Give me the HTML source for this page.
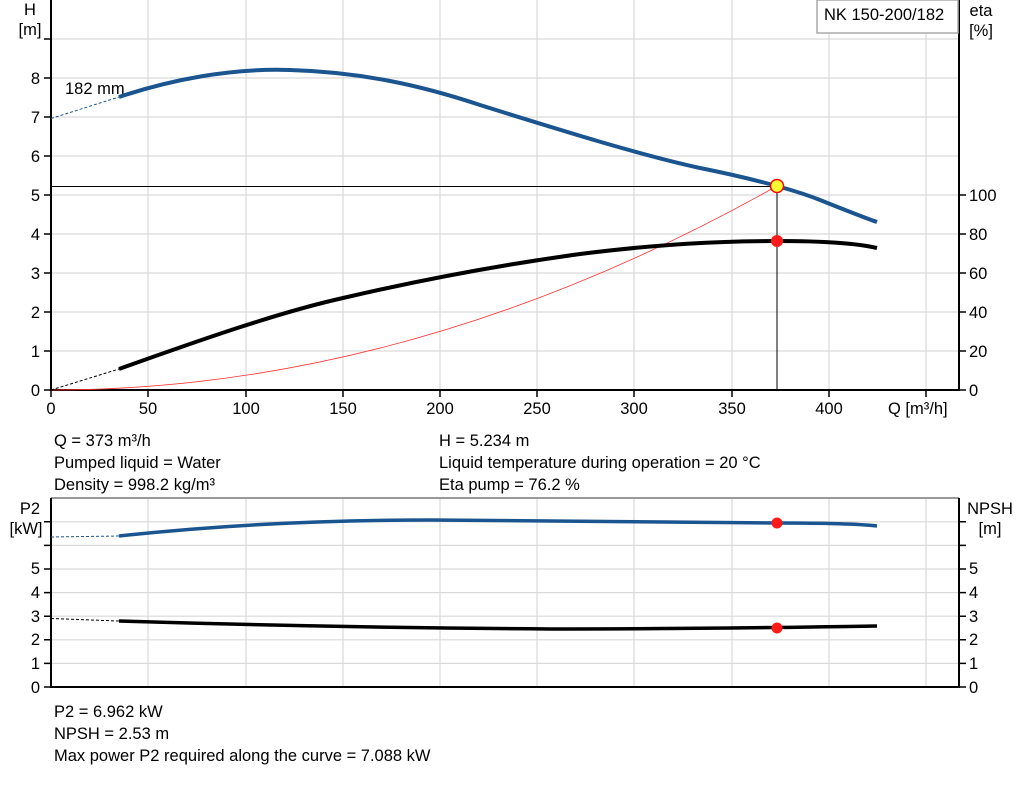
<!DOCTYPE html>
<html><head><meta charset="utf-8"><style>
body{margin:0;background:#fff}
text{font-family:"Liberation Sans",Arial,sans-serif;font-size:16.5px;fill:#000}
</style></head><body>
<svg width="1024" height="781" viewBox="0 0 1024 781" xmlns="http://www.w3.org/2000/svg">
<g stroke="#d9d9d9" stroke-width="1.2">
<line x1="148" y1="0" x2="148" y2="390"/><line x1="246" y1="0" x2="246" y2="390"/><line x1="343" y1="0" x2="343" y2="390"/><line x1="440" y1="0" x2="440" y2="390"/><line x1="537" y1="0" x2="537" y2="390"/><line x1="634" y1="0" x2="634" y2="390"/><line x1="732" y1="0" x2="732" y2="390"/><line x1="829" y1="0" x2="829" y2="390"/><line x1="926" y1="0" x2="926" y2="390"/>
<line x1="51" y1="351" x2="959" y2="351"/><line x1="51" y1="312" x2="959" y2="312"/><line x1="51" y1="273" x2="959" y2="273"/><line x1="51" y1="234" x2="959" y2="234"/><line x1="51" y1="195" x2="959" y2="195"/><line x1="51" y1="156" x2="959" y2="156"/><line x1="51" y1="117" x2="959" y2="117"/><line x1="51" y1="78" x2="959" y2="78"/><line x1="51" y1="39" x2="959" y2="39"/>
<line x1="148" y1="498" x2="148" y2="687"/><line x1="246" y1="498" x2="246" y2="687"/><line x1="343" y1="498" x2="343" y2="687"/><line x1="440" y1="498" x2="440" y2="687"/><line x1="537" y1="498" x2="537" y2="687"/><line x1="634" y1="498" x2="634" y2="687"/><line x1="732" y1="498" x2="732" y2="687"/><line x1="829" y1="498" x2="829" y2="687"/><line x1="926" y1="498" x2="926" y2="687"/>
<line x1="51" y1="663.4" x2="959" y2="663.4"/><line x1="51" y1="639.8" x2="959" y2="639.8"/><line x1="51" y1="616.2" x2="959" y2="616.2"/><line x1="51" y1="592.6" x2="959" y2="592.6"/><line x1="51" y1="569" x2="959" y2="569"/><line x1="51" y1="545.4" x2="959" y2="545.4"/><line x1="51" y1="521.8" x2="959" y2="521.8"/>
</g>
<line x1="51" y1="498" x2="959" y2="498" stroke="#999" stroke-width="2"/>
<g stroke="#000" stroke-width="2" fill="none">
<line x1="51" y1="0" x2="51" y2="391"/><line x1="959" y1="0" x2="959" y2="391"/><line x1="50" y1="390" x2="960" y2="390"/>
<line x1="51" y1="498" x2="51" y2="688"/><line x1="959" y1="498" x2="959" y2="688"/><line x1="50" y1="687" x2="960" y2="687"/>
</g>
<g stroke="#000" stroke-width="1.5">
<path d="M44 390H51M44 351H51M44 312H51M44 273H51M44 234H51M44 195H51M44 156H51M44 117H51M44 78H51M44 39H51"/>
<path d="M959 390H966M959 351H966M959 312H966M959 273H966M959 234H966M959 195H966"/>
<path d="M51 390V397M148 390V397M246 390V397M343 390V397M440 390V397M537 390V397M634 390V397M732 390V397M829 390V397M926 390V397"/>
<path d="M44 687H51M44 663.4H51M44 639.8H51M44 616.2H51M44 592.6H51M44 569H51M44 545.4H51M44 521.8H51"/>
<path d="M959 687H966M959 663.4H966M959 639.8H966M959 616.2H966M959 592.6H966M959 569H966M959 545.4H966M959 521.8H966"/>
</g>
<g text-anchor="end">
<text x="40" y="396">0</text><text x="40" y="357">1</text><text x="40" y="318">2</text><text x="40" y="279">3</text><text x="40" y="240">4</text><text x="40" y="201">5</text><text x="40" y="162">6</text><text x="40" y="123">7</text><text x="40" y="84">8</text>
<text x="40" y="693">0</text><text x="40" y="669">1</text><text x="40" y="645">2</text><text x="40" y="622">3</text><text x="40" y="598">4</text><text x="40" y="574">5</text>
</g>
<g text-anchor="start">
<text x="969" y="396">0</text><text x="969" y="357">20</text><text x="969" y="318">40</text><text x="969" y="279">60</text><text x="969" y="240">80</text><text x="969" y="201">100</text>
<text x="969" y="693">0</text><text x="969" y="669">1</text><text x="969" y="645">2</text><text x="969" y="622">3</text><text x="969" y="598">4</text><text x="969" y="574">5</text>
</g>
<g text-anchor="middle">
<text x="51" y="414">0</text><text x="148" y="414">50</text><text x="246" y="414">100</text><text x="343" y="414">150</text><text x="440" y="414">200</text><text x="537" y="414">250</text><text x="634" y="414">300</text><text x="732" y="414">350</text><text x="829" y="414">400</text>
<text x="30" y="15">H</text><text x="30" y="35">[m]</text>
<text x="981" y="16">eta</text><text x="981" y="36">[%]</text>
<text x="30" y="514">P2</text><text x="26" y="534">[kW]</text>
<text x="990" y="514">NPSH</text><text x="990" y="534">[m]</text>
</g>
<text x="888" y="414">Q [m³/h]</text>
<rect x="817" y="0" width="141" height="33" fill="#fff" stroke="#aaa" stroke-width="1.5"/>
<text x="824" y="20">NK 150-200/182</text>
<text x="65" y="94">182 mm</text>
<path d="M51 390 Q414 390 777 186" fill="none" stroke="#ff3030" stroke-width="0.8"/>
<path d="M51 186.5H777V390" fill="none" stroke="#000" stroke-width="1"/>
<path d="M51 118.5L119 97" stroke="#1a5590" stroke-width="1" stroke-dasharray="3,2" fill="none"/>
<path d="M119 97 C170 80 230 68 290 70 C360 72 420 85 480 105 C560 130 640 155 700 168 C740 176 790 188 820 200 C850 212 865 218 877 222" fill="none" stroke="#1a5590" stroke-width="4"/>
<path d="M51 390L119 369" stroke="#000" stroke-width="1" stroke-dasharray="3,2" fill="none"/>
<path d="M119 369 C200 340 280 312 343 298 C420 280 500 265 580 254 C660 244 720 241 777 241 C830 241 860 244 877 248" fill="none" stroke="#000" stroke-width="4"/>
<circle cx="777" cy="186" r="6.5" fill="#ffff33" stroke="#ff0000" stroke-width="1.5"/>
<circle cx="777" cy="241" r="6" fill="#ff1a1a"/>
<path d="M51 537L119 536" stroke="#1a5590" stroke-width="1" stroke-dasharray="3,2" fill="none"/>
<path d="M119 536 C220 525 330 520 430 520 C560 521 680 523 777 523 C830 523 860 524 877 526" fill="none" stroke="#1a5590" stroke-width="3.5"/>
<circle cx="777" cy="523" r="5.5" fill="#ff1a1a"/>
<path d="M51 618.5L119 621" stroke="#000" stroke-width="1" stroke-dasharray="3,2" fill="none"/>
<path d="M119 621 C250 625 400 628 550 629 C680 629 760 628 877 626" fill="none" stroke="#000" stroke-width="3.5"/>
<circle cx="777" cy="628" r="5.5" fill="#ff1a1a"/>
<text x="54" y="446">Q = 373 m³/h</text>
<text x="54" y="468">Pumped liquid = Water</text>
<text x="54" y="490">Density = 998.2 kg/m³</text>
<text x="439" y="446">H = 5.234 m</text>
<text x="439" y="468">Liquid temperature during operation = 20 °C</text>
<text x="439" y="490">Eta pump = 76.2 %</text>
<text x="54" y="717">P2 = 6.962 kW</text>
<text x="54" y="739">NPSH = 2.53 m</text>
<text x="54" y="761">Max power P2 required along the curve = 7.088 kW</text>
</svg>
</body></html>
